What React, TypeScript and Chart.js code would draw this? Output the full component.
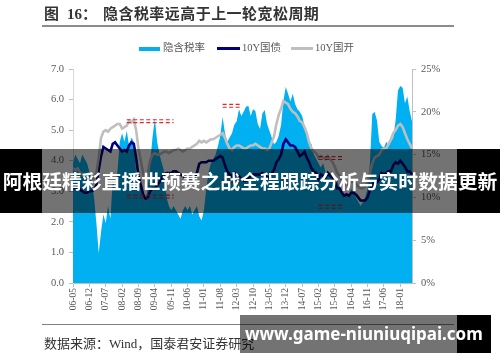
import React, { useEffect, useRef } from 'react';
import { Chart, registerables } from 'chart.js';

Chart.register(...registerables);

// ---- categories: months 2006-05 .. 2018-06 ----
const START_YEAR = 2006;
const START_MONTH = 5;
const MONTH_COUNT = 146;
const months: string[] = [];
for (let i = 0; i < MONTH_COUNT; i++) {
  const m = START_MONTH - 1 + i;
  const y = START_YEAR + Math.floor(m / 12);
  const mm = (m % 12) + 1;
  months.push(String(y % 100).padStart(2, '0') + '-' + String(mm).padStart(2, '0'));
}

const tickLabels = ['06-05', '06-12', '07-07', '08-02', '08-09', '09-04', '09-11', '10-06', '11-01', '11-08', '12-03',
  '12-10', '13-05', '13-12', '14-07', '15-02', '15-09', '16-04', '16-11', '17-06', '18-01'];

// 隐含税率 (%), right axis
const taxRate = [
  14, 15, 14.5, 14, 15, 14.5, 14, 13,
  12, 10, 7, 3.5, 6, 8, 7, 9, 7.5, 12, 11, 13,
  16.5, 17.5, 16.5, 17.8, 16, 17, 16.5, 13, 12, 11, 10, 9.5,
  11, 14, 17, 19.2, 16.5, 15, 14, 13, 10, 9, 8.5, 9,
  8.5, 8, 7.5, 8.5, 9, 8.5, 9, 8, 8.5, 9, 7.8, 7.3,
  8.5, 11, 13, 14, 14.5, 15, 16, 17.2, 19.4, 17.5, 16.5, 17,
  17.5, 18.5, 18.9, 20.3, 19.5, 20, 20.6, 20.7, 19.5, 20.3, 20.1, 18.6,
  18, 19.8, 20.2, 18.6, 17.8, 17, 16.2, 16.5, 17.2, 18.5, 21.3, 22.9,
  22.1, 21.2, 22.1, 20.9, 20.3, 20, 19.5, 18.4, 17.4, 16.6, 16.2, 15,
  14.5, 14, 13.5, 14, 13, 12.5, 13, 12, 11.5, 12, 11, 10.5,
  10, 10.5, 10, 11, 10.5, 10, 9.5, 9, 9.5, 10, 11, 14,
  19.7, 20, 19, 16.5, 16, 15.8, 16.5, 16, 16.5, 17, 19, 22.5,
  23, 22.8, 21, 21.8, 20.1, 18.9,
];

// 10Y国债 (%), left axis
const cgb10y = [
  3.15, 3.1, 3.15, 3.05, 3.0, 2.95, 2.95, 3.0,
  3.0, 3.05, 3.2, 3.7, 4.15, 4.45, 4.4, 4.35, 4.3, 4.55, 4.6, 4.5,
  4.4, 4.3, 4.35, 4.3, 4.5, 4.6, 4.55, 4.1, 3.5, 3.2, 2.9, 2.75,
  2.8, 3.0, 3.1, 3.1, 3.2, 3.3, 3.45, 3.55, 3.6, 3.6, 3.6, 3.65,
  3.65, 3.6, 3.55, 3.5, 3.45, 3.45, 3.4, 3.4, 3.45, 3.6, 3.9, 3.95,
  3.95, 3.95, 4.0, 4.0, 4.0, 4.05, 4.1, 4.15, 4.1, 3.85, 3.65, 3.55,
  3.5, 3.6, 3.55, 3.5, 3.4, 3.35, 3.35, 3.45, 3.5, 3.55, 3.55, 3.55,
  3.55, 3.6, 3.55, 3.45, 3.45, 3.6, 3.7, 3.95, 4.05, 4.2, 4.55, 4.7,
  4.6, 4.5, 4.5, 4.45, 4.3, 4.15, 4.2, 4.3, 4.1, 3.95, 3.75, 3.65,
  3.6, 3.4, 3.55, 3.5, 3.45, 3.6, 3.5, 3.45, 3.3, 3.1, 3.1, 2.95,
  2.85, 2.9, 2.85, 2.95, 2.95, 2.9, 2.8, 2.7, 2.7, 2.7, 2.8, 3.05,
  3.2, 3.3, 3.3, 3.4, 3.6, 3.55, 3.6, 3.65, 3.65, 3.85, 3.95, 3.9,
  4.0, 3.9, 3.8, 3.65, 3.65, 3.55,
];

// 10Y国开 (%), left axis
const cdb10y = [
  3.75, 3.7, 3.75, 3.6, 3.55, 3.5, 3.45, 3.4,
  3.4, 3.45, 3.6, 4.1, 4.75, 4.95, 5.0, 4.95, 5.05, 5.1, 5.15, 5.2,
  5.2, 5.05, 5.1, 5.15, 5.3, 5.25, 5.35, 5.0, 4.4, 4.0, 3.6, 3.3,
  3.6, 4.0, 4.2, 4.25, 4.2, 4.2, 4.25, 4.3, 4.3, 4.25, 4.3, 4.35,
  4.35, 4.4, 4.35, 4.3, 4.35, 4.4, 4.4, 4.45, 4.5, 4.55, 4.65, 4.6,
  4.65, 4.6, 4.65, 4.7, 4.7, 4.75, 4.8, 4.85, 4.9, 4.75, 4.55, 4.4,
  4.35, 4.45, 4.5, 4.5, 4.45, 4.4, 4.4, 4.45, 4.5, 4.5, 4.55, 4.5,
  4.45, 4.4, 4.4, 4.35, 4.4, 4.6, 4.8, 5.2, 5.5, 5.7, 5.95, 5.9,
  5.85, 5.7, 5.6, 5.55, 5.45, 5.3, 5.25, 5.1, 4.9, 4.6, 4.4, 4.3,
  4.25, 4.1, 4.15, 4.1, 4.05, 4.15, 4.05, 3.95, 3.8, 3.6, 3.5, 3.35,
  3.2, 3.25, 3.2, 3.35, 3.3, 3.25, 3.15, 3.1, 3.1, 3.15, 3.3, 3.6,
  3.9, 4.1, 4.15, 4.2, 4.35, 4.4, 4.4, 4.55, 4.7, 4.9, 5.0, 5.15,
  5.2, 5.1, 4.9, 4.7, 4.55, 4.4,
];

// red dashed range markers (tax rate %, right axis)
const bandStart = ['08-04', '11-09', '15-02'];
const bandEnd = ['09-12', '12-05', '16-01'];
const bandHigh = [18.9, 20.7, 14.6];
const bandLow = [10.1, 11.9, 8.9];

const AREA = '#00B0F0';
const NAVY = '#000080';
const GREY = '#BFBFBF';
const RED = '#E3262B';
const SERIF = '"Liberation Serif", "Noto Sans CJK SC", serif';

function bandSeries(values: number[], shift: number) {
  return months.map((m, i) => {
    for (let b = 0; b < bandStart.length; b++) {
      const s = months.indexOf(bandStart[b]);
      const e = months.indexOf(bandEnd[b]);
      if (i >= s && i <= e) return values[b] + shift;
    }
    return null;
  });
}

export default function App() {
  const ref = useRef<HTMLCanvasElement>(null);

  useEffect(() => {
    const labelSet = new Set(tickLabels);
    const dash = (data: (number | null)[]) => ({
      type: 'line' as const,
      data,
      yAxisID: 'y1',
      borderColor: RED,
      borderWidth: 1.2,
      borderDash: [4, 2.5],
      pointRadius: 0,
      fill: false,
      spanGaps: false,
      order: 0,
    });
    const chart = new Chart(ref.current!, {
      type: 'line',
      data: {
        labels: months,
        datasets: [
          {
            label: '隐含税率',
            data: taxRate,
            yAxisID: 'y1',
            backgroundColor: AREA,
            borderColor: AREA,
            borderWidth: 0,
            pointRadius: 0,
            fill: 'origin',
            order: 10,
          },
          {
            label: '10Y国债',
            data: cgb10y,
            yAxisID: 'y',
            borderColor: NAVY,
            borderWidth: 2.6,
            pointRadius: 0,
            fill: false,
            order: 3,
          },
          {
            label: '10Y国开',
            data: cdb10y,
            yAxisID: 'y',
            borderColor: GREY,
            borderWidth: 2.6,
            pointRadius: 0,
            fill: false,
            order: 2,
          },
          dash(bandSeries(bandHigh, 0.17)),
          dash(bandSeries(bandHigh, -0.17)),
          dash(bandSeries(bandLow, 0.17)),
          dash(bandSeries(bandLow, -0.17)),
        ] as any,
      },
      options: {
        animation: false,
        responsive: false,
        devicePixelRatio: 1,
        layout: { padding: { left: 40, right: 48, top: 69, bottom: 52 } },
        plugins: { legend: { display: false }, tooltip: { enabled: false } },
        elements: { line: { tension: 0 } },
        scales: {
          x: {
            type: 'category',
            afterFit: (s: any) => { s.height = 27; },
            grid: {
              display: true,
              drawOnChartArea: false,
              drawTicks: true,
              tickLength: 4,
              tickColor: (ctx: any) => (labelSet.has(months[ctx.index]) ? '#BFBFBF' : 'rgba(0,0,0,0)'),
            },
            border: { display: true, color: '#BFBFBF', width: 1 },
            ticks: {
              autoSkip: false,
              minRotation: 90,
              maxRotation: 90,
              padding: 1,
              color: '#595959',
              font: { family: SERIF, size: 9.5 },
              callback: (_v: any, idx: number) => (labelSet.has(months[idx]) ? months[idx] : ''),
            },
          },
          y: {
            position: 'left',
            min: 0,
            max: 7,
            afterFit: (s: any) => { s.width = 33; },
            grid: { drawOnChartArea: false, drawTicks: true, tickLength: 4, tickColor: '#BFBFBF' },
            border: { display: true, color: '#D9D9D9', width: 1 },
            ticks: {
              stepSize: 1,
              padding: 5,
              color: '#595959',
              font: { family: SERIF, size: 10.5 },
              callback: (v: any) => Number(v).toFixed(1),
            },
          },
          y1: {
            position: 'right',
            min: 0,
            max: 25,
            afterFit: (s: any) => { s.width = 40; },
            grid: { drawOnChartArea: false, drawTicks: true, tickLength: 4, tickColor: '#BFBFBF' },
            border: { display: true, color: '#BFBFBF', width: 1 },
            ticks: {
              stepSize: 5,
              padding: 5,
              color: '#595959',
              font: { family: SERIF, size: 10.5 },
              callback: (v: any) => v + '%',
            },
          },
        },
      } as any,
    });
    return () => chart.destroy();
  }, []);

  const abs = (o: React.CSSProperties): React.CSSProperties => ({ position: 'absolute', ...o });
  const legendText: React.CSSProperties = { fontFamily: SERIF, fontSize: 10.5, color: '#595959', lineHeight: '12px', whiteSpace: 'nowrap' };

  return (
    <div style={{ position: 'fixed', left: 0, top: 0, width: 500, height: 362, background: '#fff', overflow: 'hidden' }}>
      <canvas ref={ref} width={500} height={362} style={{ position: 'absolute', left: 0, top: 0, width: 500, height: 362 }} />

      {/* title */}
      <div style={abs({ left: 44, top: 5, fontFamily: SERIF, fontWeight: 700, fontSize: 15, lineHeight: '18px', color: '#333', whiteSpace: 'nowrap' })}>图</div>
      <div style={abs({ left: 67, top: 5, fontFamily: SERIF, fontWeight: 700, fontSize: 15, lineHeight: '18px', color: '#333', whiteSpace: 'nowrap' })}>16：</div>
      <div style={abs({ left: 103, top: 5, fontFamily: SERIF, fontWeight: 700, fontSize: 15, lineHeight: '18px', letterSpacing: 0.45, color: '#333', whiteSpace: 'nowrap' })}>隐含税率远高于上一轮宽松周期</div>
      <div style={abs({ left: 42, top: 25, width: 412, height: 1.5, background: '#8C8C8C' })} />

      {/* legend */}
      <div style={abs({ left: 139, top: 47, width: 21, height: 4, background: AREA })} />
      <div style={abs({ left: 163, top: 42, ...legendText })}>隐含税率</div>
      <div style={abs({ left: 217, top: 47, width: 23, height: 3, background: NAVY })} />
      <div style={abs({ left: 242, top: 42, ...legendText })}>10Y国债</div>
      <div style={abs({ left: 291, top: 47, width: 22, height: 3, background: GREY })} />
      <div style={abs({ left: 315, top: 42, ...legendText })}>10Y国开</div>

      {/* footer */}
      <div style={abs({ left: 42, top: 324, width: 412, height: 1, background: '#808080' })} />
      <div style={abs({ left: 44, top: 336, fontFamily: SERIF, fontSize: 13, lineHeight: '16px', color: '#333', whiteSpace: 'nowrap' })}>数据来源：Wind，国泰君安证券研究</div>

      {/* banner overlay */}
      <div style={abs({ left: 0, top: 149, width: 42, height: 64, background: '#000' })} />
      <div style={abs({ left: 42, top: 149, width: 415, height: 64, background: 'rgba(0,0,0,0.55)' })} />
      <div style={abs({ left: 457, top: 149, width: 43, height: 64, background: '#000' })} />
      <div style={abs({ left: 0, top: 149, width: 500, height: 64, lineHeight: '64px', textAlign: 'center', color: '#fff', fontFamily: '"Noto Sans CJK SC", sans-serif', fontWeight: 700, fontSize: 19.8, whiteSpace: 'nowrap' })}>阿根廷精彩直播世预赛之战全程跟踪分析与实时数据更新</div>

      {/* watermark */}
      <div style={abs({ left: 240, top: 315, width: 217, height: 38, background: 'rgba(0,0,0,0.55)' })} />
      <div style={abs({ left: 457, top: 315, width: 34, height: 38, background: '#000' })} />
      <div style={abs({ left: 245, top: 315, height: 38, lineHeight: '38px', color: '#fff', fontFamily: '"Noto Sans", "Open Sans", sans-serif', fontWeight: 700, fontSize: 17, whiteSpace: 'nowrap' })}>www.game-niuniuqipai.com</div>
    </div>
  );
}
